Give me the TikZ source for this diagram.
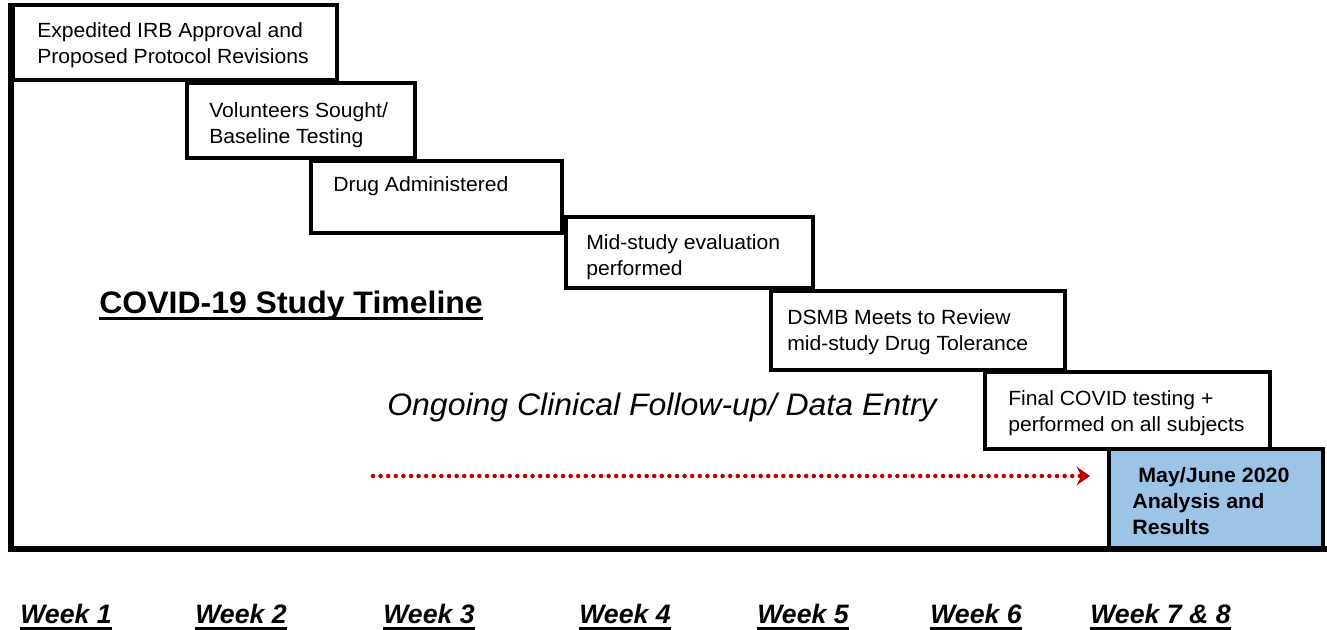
\documentclass[tikz,border=0pt]{standalone}
\usepackage{fontspec}
\setmainfont{Liberation Sans}
\newfontfamily\boxfont[FakeStretch=1.03]{Liberation Sans}
\newfontfamily\headfont[FakeStretch=1.03]{Liberation Sans}
\newfontfamily\weekfont{Liberation Sans}
\usetikzlibrary{arrows.meta}
\definecolor{resultblue}{HTML}{9DC3E6}
\definecolor{arrowred}{HTML}{C00000}
\begin{document}
\begin{tikzpicture}[
    x=0.75pt, y=-0.75pt,
    stepbox/.style={draw, line width=3.6pt, fill=white, anchor=north west, inner sep=0pt, outer sep=0pt},
    steptext/.style={anchor=north west, inner sep=0pt, align=left, font=\boxfont\fontsize{15.4pt}{19.5pt}\selectfont},
    headtext/.style={anchor=base west, inner sep=0pt, font=\headfont\fontsize{23.3pt}{27pt}\selectfont},
    weeklabel/.style={anchor=base west, inner sep=0pt, font=\weekfont\bfseries\itshape\fontsize{20pt}{24pt}\selectfont},
    followarrow/.style={draw=arrowred, line width=3.4pt, line cap=round, dash pattern=on 0pt off 5.7pt,
        -{Stealth[length=10pt, width=14pt, inset=3.5pt, line width=0pt]}}
]
    \useasboundingbox (0,0) rectangle (1327,630);

    % steps of the study
    \node[stepbox, minimum width=324*0.75pt, minimum height=75*0.75pt] (irb) at (13,5) {};
    \node[stepbox, minimum width=228*0.75pt, minimum height=75*0.75pt] (volunteers) at (187,83) {};
    \node[stepbox, minimum width=251*0.75pt, minimum height=72*0.75pt] (drug) at (311,161) {};
    \node[stepbox, minimum width=247*0.75pt, minimum height=71*0.75pt] (midstudy) at (566,217) {};
    \node[stepbox, minimum width=294*0.75pt, minimum height=79*0.75pt] (dsmb) at (771,291) {};
    \node[stepbox, minimum width=285*0.75pt, minimum height=77*0.75pt] (final) at (985,372) {};
    \node[stepbox, fill=resultblue, minimum width=214*0.75pt, minimum height=100*0.75pt] (results) at (1109,449) {};

    \node[steptext] (irbtext) at ([shift={(24,17)}]irb.north west) {Expedited IRB Approval and\\Proposed Protocol Revisions};
    \node[steptext] (volunteerstext) at ([shift={(22,19)}]volunteers.north west) {Volunteers Sought/\\Baseline Testing};
    \node[steptext] (drugtext) at ([shift={(22,15)}]drug.north west) {Drug Administered};
    \node[steptext] (midstudytext) at ([shift={(20,17)}]midstudy.north west) {Mid-study evaluation\\performed};
    \node[steptext] (dsmbtext) at ([shift={(16,18)}]dsmb.north west) {DSMB Meets to Review\\mid-study Drug Tolerance};
    \node[steptext] (finaltext) at ([shift={(23,18)}]final.north west) {Final COVID testing +\\performed on all subjects};
    \node[steptext, font=\boxfont\bfseries\fontsize{15.6pt}{19.5pt}\selectfont] (resultstext) at ([shift={(23,18)}]results.north west) {\hspace*{4.5pt}May/June 2020\\Analysis and\\Results};

    % frame of the timeline
    \draw[line width=5.2pt] (11,3) |- (1327,549);

    % title and follow-up
    \node[headtext, font=\headfont\bfseries\fontsize{23.3pt}{27pt}\selectfont] (title) at (99,314) {COVID-19 Study Timeline};
    \draw[line width=2.3pt] ([yshift=-3.5pt]title.base west) -- ([yshift=-3.5pt]title.base east);
    \node[headtext, font=\headfont\itshape\fontsize{23.3pt}{27pt}\selectfont] (followup) at (387,416) {Ongoing Clinical Follow-up/ Data Entry};

    \coordinate (dotstart) at (373,476);
    \coordinate (dotend) at (1090,476);
    \draw[followarrow] (dotstart) -- (dotend);

    % weeks
    \foreach \wk/\wx [count=\i] in {Week 1/20, Week 2/195, Week 3/383, Week 4/579, Week 5\ /757, Week 6/930, Week 7 \& 8/1090} {
        \node[weeklabel] (week\i) at (\wx,623) {\wk};
        \draw[line width=2.3pt] ([yshift=-4pt]week\i.base west) -- ([yshift=-4pt]week\i.base east);
    }
\end{tikzpicture}
\end{document}
